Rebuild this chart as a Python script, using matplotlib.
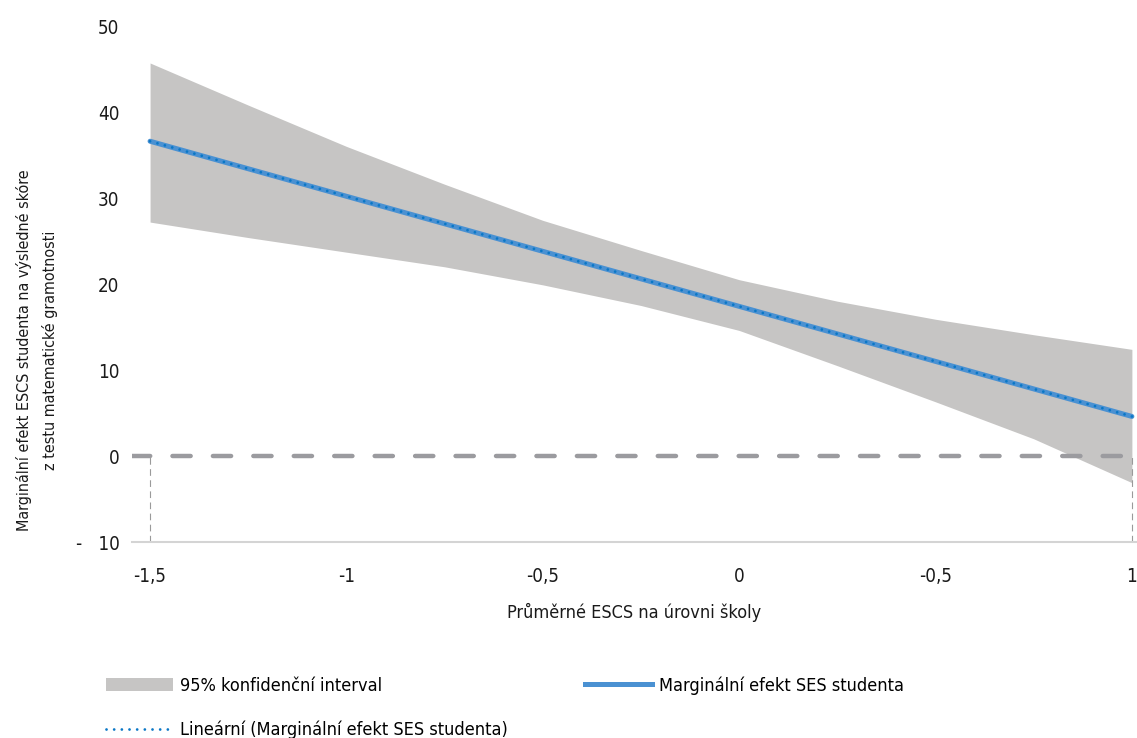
import matplotlib
matplotlib.use('Agg')
import matplotlib.pyplot as plt
from matplotlib.patches import Patch
from matplotlib.lines import Line2D

plt.rcParams['font.family'] = ['DejaVu Sans']
plt.rcParams['font.stretch'] = 'condensed'

# data
x = [-1.5, -1.25, -1.0, -0.75, -0.5, -0.25, 0.0, 0.25, 0.5, 0.75, 1.0]
upper = [45.7, 40.8, 36.0, 31.6, 27.4, 23.9, 20.5, 18.0, 15.9, 14.1, 12.4]
lower = [27.2, 25.4, 23.7, 22.0, 19.9, 17.5, 14.6, 10.5, 6.3, 2.0, -3.1]
effect = [36.6, 33.4, 30.2, 27.0, 23.8, 20.6, 17.4, 14.2, 11.0, 7.8, 4.6]

xticks = [-1.5, -1.0, -0.5, 0.0, 0.5, 1.0]
xtick_labels = ['-1,5', '-1', '-0,5', '0', '-0,5', '1']
yticks = [-10, 0, 10, 20, 30, 40, 50]
ytick_labels = ['-   10', '0', '10', '20', '30', '40', '50']

fig = plt.figure(figsize=(11.37, 7.38), dpi=100)
ax = fig.add_axes([132 / 1137, 1 - 542 / 738, 1 - 132 / 1137, (542 - 26) / 738])

ax.fill_between(x, lower, upper, color='#c6c5c4', linewidth=0, zorder=1)
ax.axhline(0, color='#9b9b9f', lw=3.2, dashes=(4.1, 5.0), dash_capstyle='round', zorder=2)
for xv in (x[0], x[-1]):
    ax.plot([xv, xv], [-10, 0], color='#9a9a9a', lw=0.8, dashes=(6, 4), zorder=2)
ax.plot(x, effect, color='#4a91d2', lw=3.6, solid_capstyle='round', zorder=3)
ax.plot([x[0], x[-1]], [effect[0], effect[-1]], color='#0a77c6', lw=2.0,
        dashes=(0.01, 2.75), dash_capstyle='round', zorder=4)

ax.set_xlim(-1.546, 1.013)
ax.set_ylim(-10, 50)
ax.set_xticks(xticks)
ax.set_xticklabels(xtick_labels)
ax.set_yticks(yticks)
ax.set_yticklabels(ytick_labels)
ax.tick_params(length=0, labelsize=13.5, colors='#1a1a1a', pad=9)
ax.tick_params(axis='x', pad=18)
for s in ('top', 'right', 'left'):
    ax.spines[s].set_visible(False)
ax.spines['bottom'].set_color('#d4d4d4')
ax.spines['bottom'].set_linewidth(1.5)

ax.set_xlabel('Průměrné ESCS na úrovni školy', fontsize=13, color='#1a1a1a', labelpad=12)
ax.set_ylabel('Marginální efekt ESCS studenta na výsledné skóre\nz testu matematické gramotnosti',
              fontsize=11.5, color='#1a1a1a', linespacing=1.75)
ax.yaxis.set_label_coords(-0.0736, 0.372)

handles = [
    Patch(facecolor='#c6c5c4', edgecolor='none'),
    Line2D([], [], color='#0a77c6', lw=2.0, dashes=(0.01, 2.75), dash_capstyle='round'),
    Line2D([], [], color='#4a91d2', lw=3.6),
]
labels = ['95% konfidenční interval', 'Lineární (Marginální efekt SES studenta)',
          'Marginální efekt SES studenta']
fig.legend(handles, labels, ncol=2, loc='upper left', bbox_to_anchor=(99 / 1137, 1 - 669 / 738),
           frameon=False, fontsize=13, handlelength=3.7, handletextpad=0.4,
           labelspacing=1.45, columnspacing=4.25, borderaxespad=0)

fig.savefig('out.png', dpi=100)
